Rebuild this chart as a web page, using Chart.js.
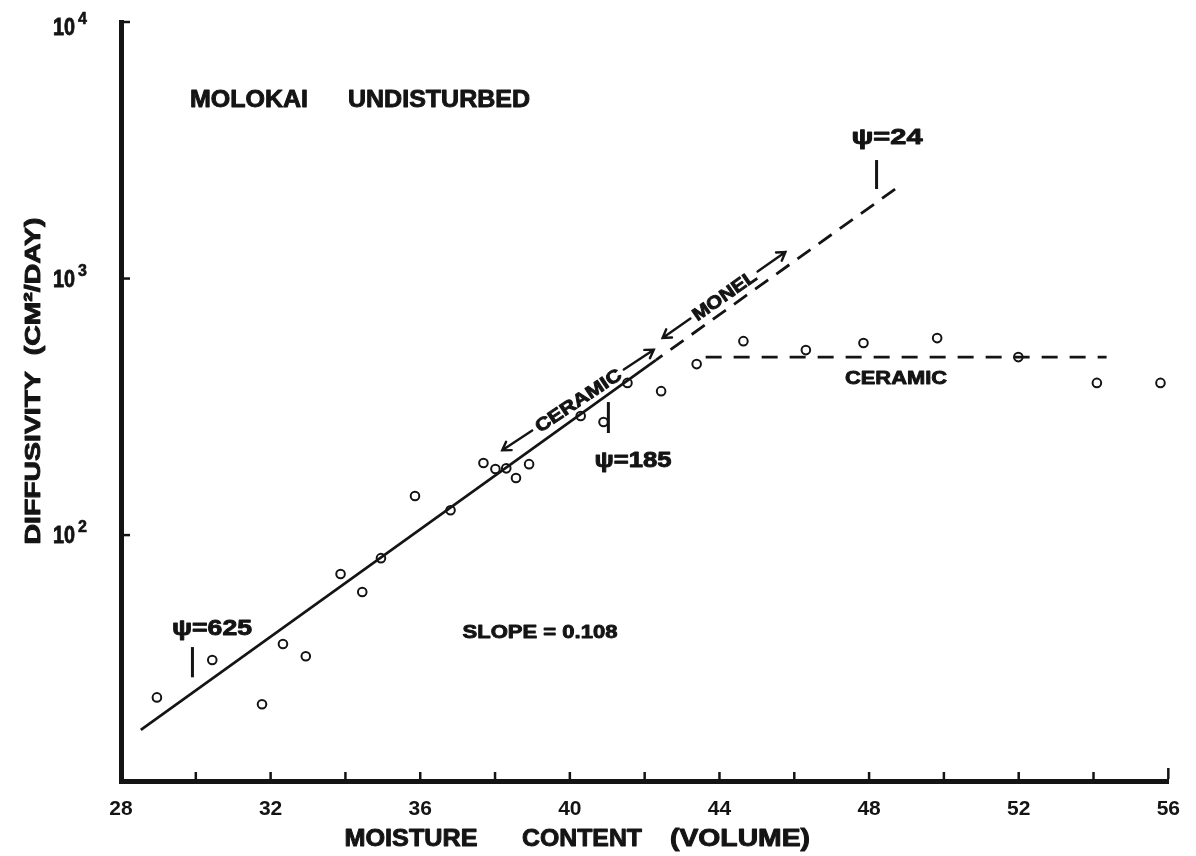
<!DOCTYPE html>
<html>
<head>
<meta charset="utf-8">
<script src="https://cdn.jsdelivr.net/npm/chart.js@4/dist/chart.umd.min.js"></script>
<style>
html,body{margin:0;padding:0;background:#ffffff;}
#wrap{width:1196px;height:856px;position:relative;}
</style>
</head>
<body>
<div id="wrap"><canvas id="c" width="1196" height="856"></canvas></div>
<script>
// ---- data ----
const moisture = [28.96, 30.44, 31.77, 32.33, 32.94, 33.87, 34.45, 34.95, 35.86, 36.81, 37.69, 38.01, 38.30, 38.56, 38.91, 40.29, 40.90, 41.54, 42.44, 43.39, 44.64, 46.31, 47.85, 49.82, 51.99, 54.09, 55.79];
const diffusivity = [23.3, 32.6, 21.9, 37.6, 33.7, 70.5, 60.0, 81.3, 142, 125, 191, 181, 182, 167, 189, 291, 276, 392, 364, 464, 570, 526, 561, 586, 494, 392, 392];
const solidFitX = [28.53, 42.30];
const solidFitY = [17.4, 481];
const monelFitX = [42.30, 48.70];
const monelFitY = [481, 2233];
const ceramicFlatX = [43.63, 54.35];
const ceramicFlatY = [494, 494];
const xTickValues = [28, 30, 32, 34, 36, 38, 40, 42, 44, 46, 48, 50, 52, 54, 56];
const xTickLabels = ['28', '', '32', '', '36', '', '40', '', '44', '', '48', '', '52', '', '56'];
const yTickValues = [100, 1000, 10000];
const yTickExponents = ['2', '3', '4'];
// psi markers: [x, yLow, yHigh]
const psiMarkers = [[29.91, 27.9, 36.6], [41.03, 250, 330], [48.20, 2233, 2897]];

const INK = '#141414';
const FONT = '"Liberation Sans", Arial, sans-serif';

function pairs(xs, ys) { return xs.map((x, i) => ({x: x, y: ys[i]})); }

function fitText(ctx, txt, cx, cy, width, size, angle) {
  ctx.save();
  ctx.font = 'bold ' + size + 'px ' + FONT;
  const w = ctx.measureText(txt).width;
  ctx.translate(cx, cy);
  if (angle) ctx.rotate(angle);
  ctx.scale(width / w, 1);
  ctx.textAlign = 'center';
  ctx.textBaseline = 'alphabetic';
  ctx.fillStyle = INK;
  ctx.strokeStyle = INK;
  ctx.lineWidth = 0.9;
  ctx.lineJoin = 'round';
  ctx.fillText(txt, 0, size * 0.358);
  ctx.strokeText(txt, 0, size * 0.358);
  ctx.restore();
}

function arrowLabel(ctx, txt, cx, cy, angleDeg, textW, size, gap, arrowLen) {
  const a = angleDeg * Math.PI / 180;
  fitText(ctx, txt, cx, cy, textW, size, a);
  ctx.save();
  ctx.translate(cx, cy);
  ctx.rotate(a);
  ctx.strokeStyle = INK;
  ctx.lineWidth = 2.4;
  ctx.lineCap = 'round';
  const s = textW / 2 + gap;
  const e = s + arrowLen;
  ctx.beginPath();
  ctx.moveTo(-s, 0); ctx.lineTo(-e, 0);
  ctx.moveTo(-e + 8, -5); ctx.lineTo(-e, 0); ctx.lineTo(-e + 8, 5);
  ctx.moveTo(s, 0); ctx.lineTo(e, 0);
  ctx.moveTo(e - 8, -5); ctx.lineTo(e, 0); ctx.lineTo(e - 8, 5);
  ctx.stroke();
  ctx.restore();
}

const decorations = {
  id: 'decorations',
  afterDraw(chart) {
    const ctx = chart.ctx;
    const xs = chart.scales.x, ys = chart.scales.y;
    const area = chart.chartArea;
    ctx.save();
    ctx.strokeStyle = INK;
    ctx.fillStyle = INK;
    ctx.lineCap = 'butt';
    // inward ticks on x axis
    ctx.lineWidth = 2.5;
    xTickValues.forEach((v, i) => {
      if (i === 0) return;
      const px = xs.getPixelForValue(v);
      const top = (i === xTickValues.length - 1) ? area.bottom - 13 : area.bottom - 9;
      ctx.beginPath(); ctx.moveTo(px, area.bottom - 2); ctx.lineTo(px, top); ctx.stroke();
    });
    // inward ticks on y axis + labels
    yTickValues.forEach((v, i) => {
      const py = ys.getPixelForValue(v);
      ctx.beginPath(); ctx.moveTo(area.left + 2, py); ctx.lineTo(area.left + 9, py); ctx.stroke();
      const cy = py < area.top + 10 ? py + 5 : py;
      ctx.save();
      ctx.font = 'bold 23px ' + FONT;
      const w = ctx.measureText('10').width;
      ctx.translate(75, cy + 23 * 0.358);
      ctx.scale(22 / w, 1);
      ctx.textAlign = 'right';
      ctx.lineWidth = 0.8;
      ctx.fillText('10', 0, 0);
      ctx.strokeText('10', 0, 0);
      ctx.restore();
      ctx.save();
      ctx.font = 'bold 16px ' + FONT;
      ctx.textAlign = 'left';
      ctx.lineWidth = 0.6;
      ctx.fillText(yTickExponents[i], 78, cy - 3);
      ctx.strokeText(yTickExponents[i], 78, cy - 3);
      ctx.restore();
    });
    // psi tick markers
    ctx.lineWidth = 3;
    psiMarkers.forEach(m => {
      const px = xs.getPixelForValue(m[0]);
      ctx.beginPath();
      ctx.moveTo(px, ys.getPixelForValue(m[1]));
      ctx.lineTo(px, ys.getPixelForValue(m[2]));
      ctx.stroke();
    });
    ctx.restore();

    // texts
    fitText(ctx, 'MOLOKAI', 249, 99, 118, 23);
    fitText(ctx, 'UNDISTURBED', 439, 99, 182, 23);
    fitText(ctx, '\u03C8=24', 887, 136, 71, 22);
    fitText(ctx, '\u03C8=185', 633, 459, 77, 22);
    fitText(ctx, '\u03C8=625', 212, 627, 80, 22);
    fitText(ctx, 'SLOPE = 0.108', 540, 631, 155, 19);
    fitText(ctx, 'CERAMIC', 896, 377, 102, 19);
    arrowLabel(ctx, 'CERAMIC', 578, 400, -33.6, 100, 18, 5, 36);
    arrowLabel(ctx, 'MONEL', 724, 295, -35, 74, 18, 4, 34);
    // axis titles
    fitText(ctx, 'MOISTURE', 411, 838, 133, 23);
    fitText(ctx, 'CONTENT', 582, 838, 120, 23);
    fitText(ctx, '(VOLUME)', 740, 838, 140, 23);
    fitText(ctx, 'DIFFUSIVITY  (CM\u00B2/DAY)', 32, 381, 327, 22, -Math.PI / 2);
  }
};

new Chart(document.getElementById('c'), {
  type: 'scatter',
  data: {
    datasets: [
      {
        label: 'measured',
        data: pairs(moisture, diffusivity),
        showLine: false,
        pointStyle: 'circle',
        pointRadius: 4.3,
        pointBorderWidth: 2,
        pointBorderColor: INK,
        pointBackgroundColor: 'rgba(255,255,255,0)'
      },
      {
        label: 'ceramic fit',
        data: pairs(solidFitX, solidFitY),
        showLine: true,
        borderColor: INK,
        borderWidth: 2.6,
        pointRadius: 0
      },
      {
        label: 'monel fit',
        data: pairs(monelFitX, monelFitY),
        showLine: true,
        borderColor: INK,
        borderWidth: 2.8,
        borderDash: [16, 10],
        borderDashOffset: 8,
        pointRadius: 0
      },
      {
        label: 'ceramic plateau',
        data: pairs(ceramicFlatX, ceramicFlatY),
        showLine: true,
        borderColor: INK,
        borderWidth: 2.8,
        borderDash: [16, 12],
        pointRadius: 0
      }
    ]
  },
  options: {
    responsive: false,
    animation: false,
    layout: {padding: {top: 22, right: 21, left: 0, bottom: 0}},
    plugins: {legend: {display: false}, tooltip: {enabled: false}},
    scales: {
      x: {
        type: 'linear',
        min: 28,
        max: 56,
        afterBuildTicks(scale) { scale.ticks = xTickValues.map(v => ({value: v})); },
        afterFit(scale) { scale.height = 75; },
        ticks: {
          autoSkip: false,
          maxRotation: 0,
          padding: 16,
          color: INK,
          font: {family: FONT, size: 21, weight: 'bold'},
          callback(value, index) { return xTickLabels[index]; }
        },
        grid: {display: false, drawTicks: false},
        border: {display: true, color: INK, width: 5}
      },
      y: {
        type: 'logarithmic',
        min: 11,
        max: 10000,
        afterBuildTicks(scale) { scale.ticks = yTickValues.map(v => ({value: v})); },
        afterFit(scale) { scale.width = 121; },
        ticks: {display: false},
        grid: {display: false, drawTicks: false},
        border: {display: true, color: INK, width: 5}
      }
    }
  },
  plugins: [decorations]
});
</script>
</body>
</html>
